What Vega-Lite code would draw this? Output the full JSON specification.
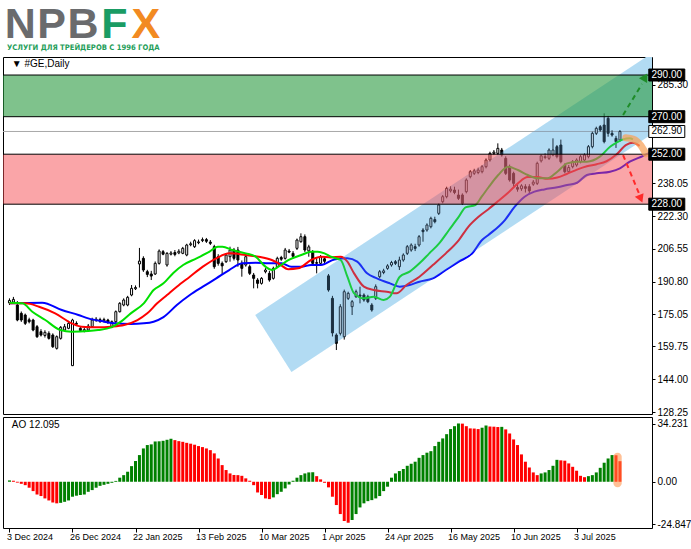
{
"$schema": "https://vega.github.io/schema/vega-lite/v6.json",
"background": "white",
"padding": {"left": 2, "top": 4, "right": 0, "bottom": 0},
"spacing": 3,
"bounds": "flush",
"config": {"view": {"stroke": "#000", "strokeWidth": 1}, "font": "Liberation Sans"},
"resolve": {"scale": {"color": "independent", "x": "independent", "y": "independent"}},
"datasets": {
"candles": [
{"i":0,"o":180.6,"h":182.8,"l":179.6,"c":181.8},{"i":1,"o":181.0,"h":183.5,"l":180.4,"c":182.3},{"i":2,"o":179.6,"h":181.5,"l":171.8,"c":172.4},{"i":3,"o":175.6,"h":176.5,"l":171.5,"c":172.4},{"i":4,"o":174.8,"h":175.5,"l":170.0,"c":170.8},{"i":5,"o":172.5,"h":173.5,"l":170.8,"c":171.6},{"i":6,"o":172.4,"h":173.0,"l":167.0,"c":167.6},{"i":7,"o":169.2,"h":170.0,"l":163.8,"c":164.4},{"i":8,"o":166.8,"h":168.0,"l":164.5,"c":165.2},{"i":9,"o":165.0,"h":167.5,"l":164.0,"c":166.5},
{"i":10,"o":166.0,"h":167.0,"l":163.0,"c":163.6},{"i":11,"o":165.2,"h":166.0,"l":159.0,"c":159.6},{"i":12,"o":158.8,"h":165.0,"l":158.2,"c":164.4},{"i":13,"o":163.6,"h":169.5,"l":163.0,"c":168.9},{"i":14,"o":167.6,"h":170.5,"l":166.8,"c":169.2},{"i":15,"o":168.4,"h":172.0,"l":168.0,"c":170.8},{"i":16,"o":150.5,"h":173.0,"l":150.3,"c":172.4},{"i":17,"o":170.8,"h":171.8,"l":169.5,"c":170.4},{"i":18,"o":168.4,"h":169.5,"l":166.8,"c":167.4},{"i":19,"o":167.0,"h":169.0,"l":166.5,"c":167.8},
{"i":20,"o":167.6,"h":170.5,"l":167.0,"c":169.5},{"i":21,"o":169.2,"h":173.5,"l":168.8,"c":172.4},{"i":22,"o":172.2,"h":173.8,"l":171.5,"c":172.8},{"i":23,"o":172.6,"h":173.5,"l":171.0,"c":171.8},{"i":24,"o":172.0,"h":173.5,"l":171.2,"c":172.6},{"i":25,"o":172.4,"h":173.0,"l":170.5,"c":171.2},{"i":26,"o":169.2,"h":172.2,"l":168.5,"c":171.6},{"i":27,"o":171.6,"h":177.0,"l":171.0,"c":176.4},{"i":28,"o":176.4,"h":181.0,"l":176.0,"c":180.4},{"i":29,"o":179.6,"h":182.8,"l":179.0,"c":182.0},
{"i":30,"o":179.6,"h":184.0,"l":179.0,"c":183.3},{"i":31,"o":184.4,"h":189.2,"l":183.8,"c":187.6},{"i":32,"o":187.4,"h":189.0,"l":186.8,"c":188.0},{"i":33,"o":199.3,"h":207.0,"l":188.0,"c":200.7},{"i":34,"o":202.0,"h":203.0,"l":195.5,"c":196.4},{"i":35,"o":195.6,"h":196.5,"l":193.0,"c":194.3},{"i":36,"o":194.5,"h":196.0,"l":191.6,"c":193.5},{"i":37,"o":194.5,"h":200.5,"l":194.0,"c":199.6},{"i":38,"o":199.6,"h":206.3,"l":199.0,"c":205.5},{"i":39,"o":205.2,"h":206.0,"l":203.5,"c":204.0},
{"i":40,"o":198.8,"h":205.0,"l":198.0,"c":204.4},{"i":41,"o":204.0,"h":205.5,"l":203.4,"c":204.6},{"i":42,"o":204.8,"h":206.0,"l":203.0,"c":203.9},{"i":43,"o":204.6,"h":206.4,"l":204.0,"c":205.4},{"i":44,"o":204.4,"h":207.5,"l":204.0,"c":206.8},{"i":45,"o":203.6,"h":209.0,"l":203.0,"c":208.4},{"i":46,"o":208.5,"h":210.0,"l":207.8,"c":209.0},{"i":47,"o":207.6,"h":211.2,"l":207.0,"c":210.5},{"i":48,"o":209.5,"h":211.0,"l":208.8,"c":209.9},{"i":49,"o":210.5,"h":212.0,"l":209.8,"c":211.0},
{"i":50,"o":211.0,"h":211.8,"l":209.4,"c":210.2},{"i":51,"o":209.8,"h":210.8,"l":208.4,"c":209.2},{"i":52,"o":207.6,"h":208.5,"l":197.0,"c":198.0},{"i":53,"o":202.8,"h":204.0,"l":198.5,"c":199.6},{"i":54,"o":199.6,"h":200.5,"l":194.0,"c":198.4},{"i":55,"o":200.4,"h":204.4,"l":199.8,"c":203.6},{"i":56,"o":202.8,"h":207.6,"l":200.4,"c":206.0},{"i":57,"o":206.0,"h":207.0,"l":201.0,"c":202.0},{"i":58,"o":206.0,"h":207.5,"l":198.0,"c":201.2},{"i":59,"o":199.6,"h":201.0,"l":193.2,"c":197.2},
{"i":60,"o":198.8,"h":203.6,"l":198.0,"c":202.8},{"i":61,"o":198.0,"h":199.0,"l":194.0,"c":194.8},{"i":62,"o":194.0,"h":195.0,"l":187.6,"c":192.4},{"i":63,"o":191.6,"h":192.5,"l":187.6,"c":190.0},{"i":64,"o":190.0,"h":193.0,"l":189.4,"c":192.4},{"i":65,"o":195.6,"h":197.3,"l":194.8,"c":196.4},{"i":66,"o":194.8,"h":196.0,"l":190.8,"c":191.6},{"i":67,"o":192.4,"h":198.0,"l":191.8,"c":197.2},{"i":68,"o":198.0,"h":202.8,"l":197.5,"c":202.0},{"i":69,"o":202.4,"h":203.2,"l":200.8,"c":201.6},
{"i":70,"o":202.0,"h":207.0,"l":201.4,"c":206.0},{"i":71,"o":205.5,"h":206.5,"l":204.5,"c":205.0},{"i":72,"o":204.4,"h":205.5,"l":202.0,"c":203.0},{"i":73,"o":206.8,"h":211.5,"l":206.0,"c":210.8},{"i":74,"o":210.0,"h":214.0,"l":209.5,"c":212.4},{"i":75,"o":212.4,"h":213.5,"l":205.0,"c":206.0},{"i":76,"o":205.6,"h":208.5,"l":202.8,"c":207.5},{"i":77,"o":205.2,"h":206.0,"l":199.0,"c":199.6},{"i":78,"o":199.6,"h":202.0,"l":194.8,"c":200.0},{"i":79,"o":199.6,"h":203.6,"l":199.0,"c":202.8},
{"i":80,"o":201.8,"h":203.0,"l":199.6,"c":200.6},{"i":81,"o":193.6,"h":194.5,"l":186.0,"c":186.8},{"i":82,"o":182.8,"h":184.0,"l":164.5,"c":166.2},{"i":83,"o":165.2,"h":166.0,"l":158.0,"c":161.2},{"i":84,"o":166.0,"h":180.0,"l":165.0,"c":178.8},{"i":85,"o":164.4,"h":187.0,"l":163.0,"c":186.0},{"i":86,"o":182.8,"h":186.0,"l":182.0,"c":185.2},{"i":87,"o":178.8,"h":182.0,"l":174.8,"c":181.2},{"i":88,"o":183.6,"h":187.0,"l":183.0,"c":186.0},{"i":89,"o":184.4,"h":188.4,"l":180.4,"c":183.8},
{"i":90,"o":184.4,"h":185.2,"l":181.2,"c":182.0},{"i":91,"o":183.6,"h":184.5,"l":180.5,"c":181.2},{"i":92,"o":179.6,"h":180.5,"l":176.4,"c":177.2},{"i":93,"o":182.8,"h":189.5,"l":182.0,"c":188.4},{"i":94,"o":193.2,"h":196.4,"l":192.4,"c":195.6},{"i":95,"o":195.2,"h":197.0,"l":194.4,"c":196.0},{"i":96,"o":197.2,"h":199.2,"l":196.5,"c":198.4},{"i":97,"o":198.8,"h":200.8,"l":198.0,"c":200.0},{"i":98,"o":200.4,"h":201.2,"l":198.8,"c":199.6},{"i":99,"o":198.0,"h":202.8,"l":196.4,"c":201.2},
{"i":100,"o":201.2,"h":204.4,"l":200.4,"c":203.6},{"i":101,"o":204.4,"h":208.4,"l":203.6,"c":207.6},{"i":102,"o":206.0,"h":209.2,"l":205.2,"c":208.4},{"i":103,"o":207.6,"h":209.0,"l":205.5,"c":206.8},{"i":104,"o":208.4,"h":213.2,"l":207.6,"c":212.4},{"i":105,"o":215.6,"h":216.5,"l":210.0,"c":214.8},{"i":106,"o":215.6,"h":218.8,"l":214.8,"c":218.0},{"i":107,"o":217.2,"h":222.0,"l":216.4,"c":221.2},{"i":108,"o":220.6,"h":222.0,"l":218.8,"c":219.6},{"i":109,"o":223.6,"h":228.4,"l":222.8,"c":227.6},
{"i":110,"o":229.2,"h":232.4,"l":228.4,"c":231.6},{"i":111,"o":231.6,"h":236.4,"l":230.8,"c":235.6},{"i":112,"o":234.4,"h":236.6,"l":233.6,"c":235.2},{"i":113,"o":234.8,"h":236.4,"l":232.8,"c":233.6},{"i":114,"o":232.4,"h":235.0,"l":230.0,"c":230.8},{"i":115,"o":232.4,"h":233.2,"l":227.6,"c":228.4},{"i":116,"o":234.0,"h":240.4,"l":233.2,"c":239.6},{"i":117,"o":241.2,"h":244.4,"l":240.4,"c":243.6},{"i":118,"o":242.8,"h":245.0,"l":242.0,"c":244.0},{"i":119,"o":243.2,"h":245.5,"l":242.4,"c":244.4},
{"i":120,"o":243.6,"h":246.8,"l":242.8,"c":246.0},{"i":121,"o":246.0,"h":250.0,"l":245.2,"c":249.2},{"i":122,"o":249.2,"h":253.2,"l":248.4,"c":252.4},{"i":123,"o":252.4,"h":254.0,"l":251.6,"c":253.0},{"i":124,"o":252.4,"h":257.2,"l":251.6,"c":254.8},{"i":125,"o":254.0,"h":255.0,"l":250.8,"c":251.6},{"i":126,"o":250.0,"h":251.0,"l":242.0,"c":242.8},{"i":127,"o":246.0,"h":247.0,"l":238.8,"c":239.6},{"i":128,"o":242.8,"h":243.6,"l":236.4,"c":238.0},{"i":129,"o":236.0,"h":237.6,"l":234.0,"c":235.2},
{"i":130,"o":235.4,"h":237.6,"l":234.4,"c":236.8},{"i":131,"o":236.4,"h":237.6,"l":233.6,"c":235.6},{"i":132,"o":236.4,"h":237.6,"l":232.8,"c":234.4},{"i":133,"o":237.6,"h":239.6,"l":236.8,"c":238.6},{"i":134,"o":238.0,"h":248.4,"l":237.2,"c":247.6},{"i":135,"o":248.8,"h":251.8,"l":248.0,"c":251.2},{"i":136,"o":250.8,"h":252.4,"l":249.6,"c":250.4},{"i":137,"o":250.0,"h":254.8,"l":249.2,"c":254.0},{"i":138,"o":251.6,"h":259.6,"l":251.0,"c":254.0},{"i":139,"o":255.6,"h":256.4,"l":250.0,"c":250.8},
{"i":140,"o":256.4,"h":259.0,"l":247.6,"c":248.4},{"i":141,"o":246.8,"h":247.6,"l":242.8,"c":243.6},{"i":142,"o":243.6,"h":246.8,"l":242.8,"c":245.6},{"i":143,"o":246.0,"h":249.2,"l":245.2,"c":248.4},{"i":144,"o":246.8,"h":250.0,"l":246.0,"c":249.2},{"i":145,"o":248.4,"h":251.6,"l":247.6,"c":250.8},{"i":146,"o":249.2,"h":252.4,"l":248.4,"c":251.6},{"i":147,"o":250.8,"h":256.4,"l":250.0,"c":255.6},{"i":148,"o":255.6,"h":262.8,"l":254.8,"c":262.0},{"i":149,"o":262.0,"h":265.2,"l":261.2,"c":264.4},
{"i":150,"o":265.2,"h":266.0,"l":262.8,"c":263.6},{"i":151,"o":266.0,"h":271.6,"l":257.2,"c":258.0},{"i":152,"o":269.2,"h":270.4,"l":260.4,"c":262.0},{"i":153,"o":262.0,"h":263.5,"l":260.4,"c":261.2},{"i":154,"o":259.6,"h":260.8,"l":255.0,"c":258.0},{"i":155,"o":258.8,"h":263.6,"l":258.0,"c":262.9}
],
"lines": [
{"s":"jaw","i":0,"v":180.4},{"s":"jaw","i":8.3,"v":180.7},{"s":"jaw","i":13.3,"v":177.2},{"s":"jaw","i":17.5,"v":174.8},{"s":"jaw","i":20,"v":173.2},{"s":"jaw","i":24.1,"v":171.6},{"s":"jaw","i":26.6,"v":170.8},{"s":"jaw","i":30.8,"v":170.5},{"s":"jaw","i":34.1,"v":170.8},{"s":"jaw","i":36.6,"v":171.6},{"s":"jaw","i":39.1,"v":173.8},{"s":"jaw","i":42.5,"v":179.6},{"s":"jaw","i":45.8,"v":184.4},{"s":"jaw","i":49.1,"v":188.4},{"s":"jaw","i":52.5,"v":192.4},{"s":"jaw","i":55.8,"v":196.4},{"s":"jaw","i":59.1,"v":199.6},{"s":"jaw","i":62.5,"v":199.9},{"s":"jaw","i":65.8,"v":199.6},{"s":"jaw","i":69.1,"v":199.6},{"s":"jaw","i":71.6,"v":198.0},{"s":"jaw","i":74.1,"v":198.0},{"s":"jaw","i":76.6,"v":198.8},{"s":"jaw","i":79.1,"v":198.8},{"s":"jaw","i":82.5,"v":201.5},{"s":"jaw","i":85.8,"v":202.0},{"s":"jaw","i":88.3,"v":200.4},{"s":"jaw","i":90.8,"v":194.8},{"s":"jaw","i":93.3,"v":192.4},{"s":"jaw","i":96.6,"v":190.0},{"s":"jaw","i":99.1,"v":188.4},{"s":"jaw","i":101.6,"v":189.2},{"s":"jaw","i":104.1,"v":190.8},{"s":"jaw","i":107.5,"v":192.4},{"s":"jaw","i":110.8,"v":196.4},{"s":"jaw","i":114.1,"v":200.4},{"s":"jaw","i":117.5,"v":204.4},{"s":"jaw","i":120,"v":210.8},{"s":"jaw","i":121.6,"v":213.2},{"s":"jaw","i":125.8,"v":220.4},{"s":"jaw","i":128.3,"v":226.8},{"s":"jaw","i":130.8,"v":231.6},{"s":"jaw","i":133.3,"v":234.0},{"s":"jaw","i":135.8,"v":235.1},{"s":"jaw","i":139.1,"v":236.1},{"s":"jaw","i":141.6,"v":237.2},{"s":"jaw","i":144.1,"v":238.3},{"s":"jaw","i":146.6,"v":242.0},{"s":"jaw","i":149.1,"v":242.8},{"s":"jaw","i":152.5,"v":243.6},{"s":"jaw","i":155,"v":245.2},{"s":"jaw","i":157.5,"v":248.4},{"s":"jaw","i":160.8,"v":251.1},{"s":"jaw","i":162.5,"v":252.6},
{"s":"teeth","i":0,"v":180.4},{"s":"teeth","i":4.1,"v":180.4},{"s":"teeth","i":7.5,"v":178.8},{"s":"teeth","i":11.6,"v":175.6},{"s":"teeth","i":15.8,"v":170.8},{"s":"teeth","i":18.3,"v":169.2},{"s":"teeth","i":22.5,"v":168.9},{"s":"teeth","i":25.8,"v":169.2},{"s":"teeth","i":29.1,"v":170.0},{"s":"teeth","i":32.5,"v":172.4},{"s":"teeth","i":35,"v":175.6},{"s":"teeth","i":37.5,"v":180.4},{"s":"teeth","i":40,"v":184.4},{"s":"teeth","i":42.5,"v":188.4},{"s":"teeth","i":45.8,"v":193.2},{"s":"teeth","i":49.1,"v":198.0},{"s":"teeth","i":52.5,"v":202.0},{"s":"teeth","i":55.8,"v":204.4},{"s":"teeth","i":60,"v":203.6},{"s":"teeth","i":63.3,"v":202.8},{"s":"teeth","i":66.6,"v":201.2},{"s":"teeth","i":68.3,"v":199.6},{"s":"teeth","i":70.8,"v":196.8},{"s":"teeth","i":73.3,"v":197.2},{"s":"teeth","i":76.6,"v":201.2},{"s":"teeth","i":79.1,"v":202.8},{"s":"teeth","i":81.6,"v":202.4},{"s":"teeth","i":84.1,"v":202.8},{"s":"teeth","i":85.8,"v":200.4},{"s":"teeth","i":87.5,"v":194.8},{"s":"teeth","i":90,"v":188.4},{"s":"teeth","i":92.5,"v":186.8},{"s":"teeth","i":95.8,"v":186.0},{"s":"teeth","i":98.3,"v":185.2},{"s":"teeth","i":100.8,"v":189.2},{"s":"teeth","i":104.1,"v":193.2},{"s":"teeth","i":107.5,"v":198.8},{"s":"teeth","i":110.8,"v":204.4},{"s":"teeth","i":114.1,"v":210.8},{"s":"teeth","i":116.6,"v":217.4},{"s":"teeth","i":119.1,"v":222.0},{"s":"teeth","i":121.6,"v":225.6},{"s":"teeth","i":124.1,"v":229.5},{"s":"teeth","i":126.6,"v":233.5},{"s":"teeth","i":129.1,"v":238.0},{"s":"teeth","i":131.6,"v":241.0},{"s":"teeth","i":134.1,"v":241.0},{"s":"teeth","i":136.6,"v":240.2},{"s":"teeth","i":139.1,"v":240.8},{"s":"teeth","i":141.6,"v":242.6},{"s":"teeth","i":144.1,"v":244.6},{"s":"teeth","i":146.6,"v":246.2},{"s":"teeth","i":149.1,"v":247.2},{"s":"teeth","i":151.6,"v":248.6},{"s":"teeth","i":154.1,"v":251.8},{"s":"teeth","i":156.6,"v":256.5},{"s":"teeth","i":158.3,"v":257.5},{"s":"teeth","i":160,"v":256.0},
{"s":"lips","i":0,"v":180.7},{"s":"lips","i":3.3,"v":180.4},{"s":"lips","i":5.8,"v":176.4},{"s":"lips","i":9.1,"v":172.4},{"s":"lips","i":12.9,"v":167.6},{"s":"lips","i":15.8,"v":166.8},{"s":"lips","i":20,"v":167.1},{"s":"lips","i":22.5,"v":167.6},{"s":"lips","i":25.8,"v":168.9},{"s":"lips","i":28.3,"v":171.6},{"s":"lips","i":30.8,"v":175.6},{"s":"lips","i":34.1,"v":180.4},{"s":"lips","i":36.6,"v":186.8},{"s":"lips","i":39.1,"v":190.0},{"s":"lips","i":41.6,"v":195.0},{"s":"lips","i":44.1,"v":198.8},{"s":"lips","i":47.5,"v":202.0},{"s":"lips","i":50.8,"v":205.2},{"s":"lips","i":52.9,"v":207.6},{"s":"lips","i":54.1,"v":207.6},{"s":"lips","i":56.6,"v":206.0},{"s":"lips","i":60,"v":204.4},{"s":"lips","i":62.5,"v":202.8},{"s":"lips","i":65,"v":198.0},{"s":"lips","i":66.6,"v":196.4},{"s":"lips","i":68.3,"v":198.0},{"s":"lips","i":70.8,"v":201.2},{"s":"lips","i":74.1,"v":203.6},{"s":"lips","i":76.6,"v":205.2},{"s":"lips","i":78.3,"v":205.2},{"s":"lips","i":80,"v":204.4},{"s":"lips","i":81.6,"v":202.8},{"s":"lips","i":84.1,"v":201.2},{"s":"lips","i":85.8,"v":193.2},{"s":"lips","i":87.5,"v":185.2},{"s":"lips","i":90,"v":182.8},{"s":"lips","i":92.5,"v":183.6},{"s":"lips","i":95,"v":182.0},{"s":"lips","i":96.6,"v":183.6},{"s":"lips","i":99.1,"v":193.2},{"s":"lips","i":101.6,"v":195.6},{"s":"lips","i":104.1,"v":199.6},{"s":"lips","i":106.6,"v":204.4},{"s":"lips","i":109.1,"v":209.2},{"s":"lips","i":111.6,"v":215.6},{"s":"lips","i":114.1,"v":222.0},{"s":"lips","i":115.8,"v":226.5},{"s":"lips","i":118.3,"v":227.6},{"s":"lips","i":119.9,"v":231.6},{"s":"lips","i":121.6,"v":236.0},{"s":"lips","i":124.1,"v":242.0},{"s":"lips","i":126.6,"v":246.0},{"s":"lips","i":129.1,"v":244.4},{"s":"lips","i":131.6,"v":242.0},{"s":"lips","i":134.1,"v":240.4},{"s":"lips","i":136.6,"v":240.4},{"s":"lips","i":139.1,"v":243.6},{"s":"lips","i":141.6,"v":247.6},{"s":"lips","i":144.1,"v":248.4},{"s":"lips","i":146.6,"v":248.4},{"s":"lips","i":149.9,"v":250.8},{"s":"lips","i":152.5,"v":255.6},{"s":"lips","i":154.1,"v":257.5},{"s":"lips","i":155.8,"v":259.1},{"s":"lips","i":157.5,"v":259.6},{"s":"lips","i":158.3,"v":259.1}
],
"ao": [
{"i":0,"v":0.8,"d":"up"},{"i":1,"v":0.6,"d":"dn"},{"i":2,"v":-0.5,"d":"dn"},{"i":3,"v":-1.2,"d":"dn"},{"i":4,"v":-2.0,"d":"dn"},{"i":5,"v":-3.5,"d":"dn"},{"i":6,"v":-5.5,"d":"dn"},{"i":7,"v":-7.5,"d":"dn"},{"i":8,"v":-8.4,"d":"dn"},{"i":9,"v":-9.8,"d":"dn"},
{"i":10,"v":-11.0,"d":"dn"},{"i":11,"v":-12.2,"d":"dn"},{"i":12,"v":-12.7,"d":"dn"},{"i":13,"v":-12.4,"d":"up"},{"i":14,"v":-11.8,"d":"up"},{"i":15,"v":-11.0,"d":"up"},{"i":16,"v":-8.8,"d":"up"},{"i":17,"v":-8.2,"d":"up"},{"i":18,"v":-7.8,"d":"up"},{"i":19,"v":-7.5,"d":"up"},
{"i":20,"v":-5.9,"d":"up"},{"i":21,"v":-4.9,"d":"up"},{"i":22,"v":-3.5,"d":"up"},{"i":23,"v":-2.4,"d":"up"},{"i":24,"v":-1.8,"d":"up"},{"i":25,"v":-1.2,"d":"up"},{"i":26,"v":-0.6,"d":"up"},{"i":27,"v":0.5,"d":"up"},{"i":28,"v":2.4,"d":"up"},{"i":29,"v":3.9,"d":"up"},
{"i":30,"v":5.9,"d":"up"},{"i":31,"v":9.2,"d":"up"},{"i":32,"v":12.2,"d":"up"},{"i":33,"v":15.7,"d":"up"},{"i":34,"v":19.6,"d":"up"},{"i":35,"v":21.6,"d":"up"},{"i":36,"v":22.0,"d":"up"},{"i":37,"v":23.7,"d":"up"},{"i":38,"v":23.8,"d":"up"},{"i":39,"v":24.1,"d":"up"},
{"i":40,"v":24.7,"d":"up"},{"i":41,"v":25.3,"d":"up"},{"i":42,"v":24.5,"d":"dn"},{"i":43,"v":23.9,"d":"dn"},{"i":44,"v":23.5,"d":"dn"},{"i":45,"v":22.9,"d":"dn"},{"i":46,"v":22.4,"d":"dn"},{"i":47,"v":21.8,"d":"dn"},{"i":48,"v":21.0,"d":"dn"},{"i":49,"v":20.4,"d":"dn"},
{"i":50,"v":19.6,"d":"dn"},{"i":51,"v":18.6,"d":"dn"},{"i":52,"v":16.7,"d":"dn"},{"i":53,"v":13.7,"d":"dn"},{"i":54,"v":9.8,"d":"dn"},{"i":55,"v":6.9,"d":"dn"},{"i":56,"v":4.9,"d":"dn"},{"i":57,"v":4.0,"d":"dn"},{"i":58,"v":3.9,"d":"dn"},{"i":59,"v":3.5,"d":"dn"},
{"i":60,"v":2.0,"d":"dn"},{"i":61,"v":0.6,"d":"dn"},{"i":62,"v":-2.0,"d":"dn"},{"i":63,"v":-6.3,"d":"dn"},{"i":64,"v":-7.8,"d":"dn"},{"i":65,"v":-9.8,"d":"dn"},{"i":66,"v":-10.2,"d":"dn"},{"i":67,"v":-9.2,"d":"up"},{"i":68,"v":-7.3,"d":"up"},{"i":69,"v":-5.9,"d":"up"},
{"i":70,"v":-3.9,"d":"up"},{"i":71,"v":-1.6,"d":"up"},{"i":72,"v":0.6,"d":"up"},{"i":73,"v":2.4,"d":"up"},{"i":74,"v":3.9,"d":"up"},{"i":75,"v":4.9,"d":"up"},{"i":76,"v":5.5,"d":"up"},{"i":77,"v":5.6,"d":"up"},{"i":78,"v":3.3,"d":"dn"},{"i":79,"v":1.4,"d":"dn"},
{"i":80,"v":-0.6,"d":"dn"},{"i":81,"v":-3.3,"d":"dn"},{"i":82,"v":-8.8,"d":"dn"},{"i":83,"v":-13.7,"d":"dn"},{"i":84,"v":-19.0,"d":"dn"},{"i":85,"v":-23.1,"d":"dn"},{"i":86,"v":-24.1,"d":"dn"},{"i":87,"v":-22.5,"d":"up"},{"i":88,"v":-19.0,"d":"up"},{"i":89,"v":-15.1,"d":"up"},
{"i":90,"v":-12.7,"d":"up"},{"i":91,"v":-11.4,"d":"up"},{"i":92,"v":-10.8,"d":"up"},{"i":93,"v":-9.8,"d":"up"},{"i":94,"v":-8.4,"d":"up"},{"i":95,"v":-5.5,"d":"up"},{"i":96,"v":-2.9,"d":"up"},{"i":97,"v":2.4,"d":"up"},{"i":98,"v":4.9,"d":"up"},{"i":99,"v":6.3,"d":"up"},
{"i":100,"v":7.5,"d":"up"},{"i":101,"v":9.4,"d":"up"},{"i":102,"v":10.6,"d":"up"},{"i":103,"v":11.8,"d":"up"},{"i":104,"v":14.1,"d":"up"},{"i":105,"v":15.7,"d":"up"},{"i":106,"v":17.1,"d":"up"},{"i":107,"v":18.0,"d":"up"},{"i":108,"v":21.0,"d":"up"},{"i":109,"v":23.5,"d":"up"},
{"i":110,"v":25.5,"d":"up"},{"i":111,"v":28.0,"d":"up"},{"i":112,"v":31.0,"d":"up"},{"i":113,"v":32.7,"d":"up"},{"i":114,"v":34.3,"d":"up"},{"i":115,"v":34.2,"d":"dn"},{"i":116,"v":32.7,"d":"dn"},{"i":117,"v":31.4,"d":"dn"},{"i":118,"v":31.3,"d":"dn"},{"i":119,"v":31.0,"d":"dn"},
{"i":120,"v":31.8,"d":"up"},{"i":121,"v":33.1,"d":"up"},{"i":122,"v":32.5,"d":"dn"},{"i":123,"v":32.4,"d":"dn"},{"i":124,"v":32.2,"d":"dn"},{"i":125,"v":32.3,"d":"up"},{"i":126,"v":30.8,"d":"dn"},{"i":127,"v":28.4,"d":"dn"},{"i":128,"v":24.9,"d":"dn"},{"i":129,"v":21.6,"d":"dn"},
{"i":130,"v":16.1,"d":"dn"},{"i":131,"v":11.8,"d":"dn"},{"i":132,"v":8.4,"d":"dn"},{"i":133,"v":5.5,"d":"dn"},{"i":134,"v":3.9,"d":"dn"},{"i":135,"v":4.9,"d":"up"},{"i":136,"v":5.5,"d":"up"},{"i":137,"v":6.9,"d":"up"},{"i":138,"v":9.4,"d":"up"},{"i":139,"v":12.9,"d":"up"},
{"i":140,"v":12.6,"d":"dn"},{"i":141,"v":12.4,"d":"dn"},{"i":142,"v":10.8,"d":"dn"},{"i":143,"v":8.8,"d":"dn"},{"i":144,"v":6.5,"d":"dn"},{"i":145,"v":3.5,"d":"dn"},{"i":146,"v":2.7,"d":"dn"},{"i":147,"v":3.3,"d":"up"},{"i":148,"v":3.9,"d":"up"},{"i":149,"v":5.5,"d":"up"},
{"i":150,"v":8.2,"d":"up"},{"i":151,"v":11.2,"d":"up"},{"i":152,"v":13.7,"d":"up"},{"i":153,"v":15.7,"d":"up"},{"i":154,"v":15.6,"d":"dn"},{"i":155,"v":12.1,"d":"dn"}
],
"channel": [{"i":62.4,"lo":174.8,"hi":174.8},{"i":71.6,"lo":147.5,"hi":186.3},{"i":175,"lo":276.5,"hi":315.3}],
"levels": [{"lvl":290},{"lvl":270},{"lvl":252},{"lvl":228}],
"boxes": [{"lvl":290,"lab":"290.00","hl":1},{"lvl":270,"lab":"270.00","hl":1},{"lvl":262.9,"lab":"262.90","hl":0},{"lvl":252,"lab":"252.00","hl":1},{"lvl":228,"lab":"228.00","hl":1}]
},
"vconcat": [
{
"width": 160, "height": 47,
"view": {"stroke": null},
"title": {"text": "УСЛУГИ ДЛЯ ТРЕЙДЕРОВ С 1996 ГОДА", "orient": "bottom", "anchor": "start", "offset": -10, "dx": 4, "baseline": "top", "fontSize": 7.6, "font": "DejaVu Sans Condensed", "fontWeight": "bold", "color": "#1f9e5a"},
"data": {"values": [{"pos":1,"letter":"N","brand":"NPB"},{"pos":2,"letter":"P","brand":"NPB"},{"pos":3,"letter":"B","brand":"NPB"},{"pos":4,"letter":"F","brand":"F"},{"pos":5,"letter":"X","brand":"X"}]},
"mark": {"type": "text", "fontSize": 43, "fontWeight": "bold", "font": "Liberation Sans", "baseline": "middle", "dy": -5.5},
"encoding": {
"x": {"field": "pos", "type": "ordinal", "axis": null, "scale": {"type": "point", "padding": 0.55}},
"text": {"field": "letter"},
"color": {"field": "brand", "type": "nominal", "legend": null, "scale": {"domain": ["NPB","F","X"], "range": ["#6a6b6d","#1a9c64","#f28a22"]}}
}
},
{
"width": 649, "height": 357,
"layer": [
{"data": {"name": "channel"}, "mark": {"type": "area", "color": "#d9f5ff", "clip": true},
 "encoding": {
  "x": {"field": "i", "type": "quantitative", "scale": {"domain": [-0.375, 161.875], "nice": false, "zero": false}, "axis": null},
  "y": {"field": "lo", "type": "quantitative", "scale": {"domain": [127.29, 298.65], "nice": false, "zero": false}},
  "y2": {"field": "hi"}}},
{"data": {"values": [{}]}, "mark": {"type": "rule", "color": "#a8a8a8", "strokeWidth": 1},
 "encoding": {"y": {"datum": 262.9, "type": "quantitative"}}},
{"data": {"name": "candles"}, "mark": {"type": "rule", "color": "#000", "strokeWidth": 1},
 "encoding": {
  "x": {"field": "i", "type": "quantitative", "axis": null},
  "y": {"field": "l", "type": "quantitative",
        "axis": {"orient": "right", "values": [285.30, 238.05, 222.30, 206.55, 190.80, 175.05, 159.75, 144.00, 128.25], "format": ".2f", "title": null, "tickSize": 3, "labelPadding": 2, "domain": false, "grid": false, "labelFontSize": 10, "labelFont": "Liberation Sans", "labelColor": "#000", "tickColor": "#000", "labelOverlap": false}},
  "y2": {"field": "h"}}},
{"data": {"name": "candles"}, "mark": {"type": "bar", "width": 2, "stroke": "#000", "strokeWidth": 1},
 "encoding": {
  "x": {"field": "i", "type": "quantitative", "axis": null},
  "y": {"field": "o", "type": "quantitative"},
  "y2": {"field": "c"},
  "fill": {"condition": {"test": "datum.c >= datum.o", "value": "#ffffff"}, "value": "#000000"}}},
{"data": {"name": "lines"}, "mark": {"type": "line", "strokeWidth": 2, "interpolate": "monotone", "clip": true},
 "encoding": {
  "x": {"field": "i", "type": "quantitative", "axis": null},
  "y": {"field": "v", "type": "quantitative"},
  "color": {"field": "s", "type": "nominal", "legend": null, "scale": {"domain": ["jaw","teeth","lips"], "range": ["#0000ff","#ff0000","#00e000"]}}}},
{"data": {"name": "channel"}, "mark": {"type": "area", "color": "#5a9fd6", "opacity": 0.3, "clip": true},
 "encoding": {
  "x": {"field": "i", "type": "quantitative", "axis": null},
  "y": {"field": "lo", "type": "quantitative"},
  "y2": {"field": "hi"}}},
{"data": {"values": [{}]}, "mark": {"type": "rect", "color": "#f54b51", "opacity": 0.5},
 "encoding": {"y": {"datum": 228, "type": "quantitative"}, "y2": {"datum": 252}}},
{"data": {"values": [{}]}, "mark": {"type": "rect", "color": "#2a9a3f", "opacity": 0.6},
 "encoding": {"y": {"datum": 270, "type": "quantitative"}, "y2": {"datum": 290}}},
{"data": {"name": "levels"}, "mark": {"type": "rule", "color": "#000", "strokeWidth": 1},
 "encoding": {"y": {"field": "lvl", "type": "quantitative"}}},
{"data": {"values": [{"i":156.5,"v":259.9},{"i":158.5,"v":259.2},{"i":160.3,"v":256.2},{"i":161.6,"v":252.2}]},
 "mark": {"type": "line", "color": "#f7a35c", "strokeWidth": 7, "opacity": 0.75, "strokeCap": "round", "interpolate": "monotone"},
 "encoding": {"x": {"field": "i", "type": "quantitative", "axis": null}, "y": {"field": "v", "type": "quantitative"}}},
{"data": {"values": [{"i":155.8,"v":270.8},{"i":160.6,"v":285.7}]},
 "mark": {"type": "line", "color": "#1e8c28", "strokeWidth": 2, "strokeDash": [5,4]},
 "encoding": {"x": {"field": "i", "type": "quantitative", "axis": null}, "y": {"field": "v", "type": "quantitative"}}},
{"data": {"values": [{"i":155.8,"v":251.6},{"i":159.9,"v":232.9}]},
 "mark": {"type": "line", "color": "#ff2a2a", "strokeWidth": 2, "strokeDash": [5,4]},
 "encoding": {"x": {"field": "i", "type": "quantitative", "axis": null}, "y": {"field": "v", "type": "quantitative"}}},
{"data": {"values": [{}]}, "mark": {"type": "point", "shape": "triangle-up", "filled": true, "size": 90, "angle": 31, "color": "#1e8c28", "opacity": 1},
 "encoding": {"x": {"datum": 161.4, "type": "quantitative", "axis": null}, "y": {"datum": 289.0, "type": "quantitative"}}},
{"data": {"values": [{}]}, "mark": {"type": "point", "shape": "triangle-up", "filled": true, "size": 90, "angle": 157, "color": "#ff2a2a", "opacity": 1},
 "encoding": {"x": {"datum": 160.3, "type": "quantitative", "axis": null}, "y": {"datum": 230.6, "type": "quantitative"}}},
{"data": {"values": [{}]}, "mark": {"type": "text", "text": "▼ #GE,Daily", "align": "left", "baseline": "middle", "fontSize": 10, "font": "Liberation Sans", "color": "#000"},
 "encoding": {"x": {"datum": 0.6, "type": "quantitative", "axis": null}, "y": {"datum": 295.3, "type": "quantitative"}}},
{"data": {"name": "boxes"}, "mark": {"type": "point", "shape": "M-1,-0.333L1,-0.333L1,0.333L-1,0.333Z", "size": 1296, "filled": true, "opacity": 1, "stroke": "#000", "strokeWidth": 1},
 "encoding": {"x": {"datum": 166.9, "type": "quantitative", "axis": null}, "y": {"field": "lvl", "type": "quantitative"},
  "fill": {"condition": {"test": "datum.hl == 1", "value": "#000000"}, "value": "#ffffff"}}},
{"data": {"name": "boxes"}, "mark": {"type": "text", "fontSize": 10, "font": "Liberation Sans", "baseline": "middle", "align": "center"},
 "encoding": {"x": {"datum": 166.9, "type": "quantitative", "axis": null}, "y": {"field": "lvl", "type": "quantitative"},
  "text": {"field": "lab"},
  "color": {"condition": {"test": "datum.hl == 1", "value": "#ffffff"}, "value": "#000000"}}}
]
},
{
"width": 649, "height": 111,
"layer": [
{"data": {"name": "ao"}, "mark": {"type": "bar", "width": 3},
 "encoding": {
  "x": {"field": "i", "type": "quantitative", "scale": {"domain": [-0.375, 161.875], "nice": false, "zero": false},
        "axis": {"values": [0,16,32,48,64,80,96,112,128,144], "labelExpr": "['3 Dec 2024','26 Dec 2024','22 Jan 2025','13 Feb 2025','10 Mar 2025','1 Apr 2025','24 Apr 2025','16 May 2025','10 Jun 2025','3 Jul 2025'][round(datum.value/16)]", "title": null, "tickSize": 4, "labelAlign": "left", "labelPadding": 0, "labelOffset": -3, "domain": false, "grid": false, "labelFontSize": 9, "labelFont": "Liberation Sans", "labelColor": "#000", "tickColor": "#000", "labelFlush": false, "labelOverlap": false}},
  "y": {"field": "v", "type": "quantitative", "scale": {"domain": [-27.2, 38.1], "nice": false},
        "axis": {"orient": "right", "values": [34.231, 0, -24.847], "labelExpr": "datum.value == 0 ? '0.00' : (datum.value > 0 ? '34.231' : '-24.847')", "title": null, "tickSize": 3, "labelPadding": 2, "domain": false, "grid": false, "labelFontSize": 10, "labelFont": "Liberation Sans", "labelColor": "#000", "tickColor": "#000", "labelOverlap": false}},
  "color": {"field": "d", "type": "nominal", "legend": null, "scale": {"domain": ["up","dn"], "range": ["#008000","#ff0000"]}}}},
{"data": {"values": [{}]}, "mark": {"type": "rect", "color": "#ff8c40", "opacity": 0.55, "cornerRadius": 4},
 "encoding": {"x": {"datum": 153.35, "type": "quantitative"}, "x2": {"datum": 155.45}, "y": {"datum": -3.2, "type": "quantitative"}, "y2": {"datum": 17}}},
{"data": {"values": [{}]}, "mark": {"type": "text", "text": "AO 12.095", "align": "left", "baseline": "middle", "fontSize": 10, "font": "Liberation Sans", "color": "#000"},
 "encoding": {"x": {"datum": 0.6, "type": "quantitative"}, "y": {"datum": 33.4, "type": "quantitative"}}}
]
}
]
}
